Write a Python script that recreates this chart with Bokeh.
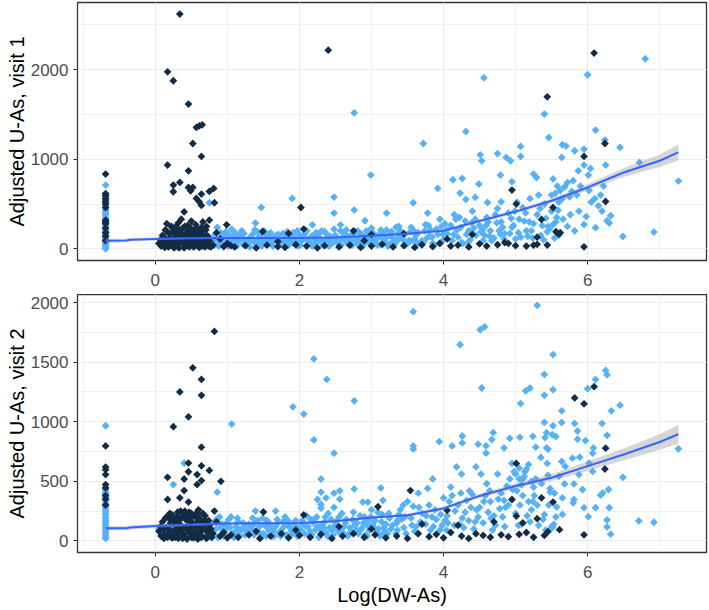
import math
from bokeh.plotting import figure
from bokeh.layouts import column
from bokeh.models import Range1d, SingleIntervalTicker
from bokeh.embed import file_html
from bokeh.resources import INLINE

# ---------------- data ----------------
x_ticks_interval = 2
v1_y_label = "Adjusted U-As, visit 1"
v2_y_label = "Adjusted U-As, visit 2"
x_label = "Log(DW-As)"

# visit 1 : dark points
v1_dark = [
    (0.34, 2622), (0.17, 1977), (0.25, 1877), (0.46, 1616), (0.57, 1355), (0.61, 1374), (0.65, 1385),
    (0.52, 1176), (0.64, 1031), (0.17, 935), (0.46, 871), (0.25, 711), (0.34, 741), (0.25, 637),
    (0.46, 685), (0.52, 685), (0.49, 648), (0.57, 562), (0.64, 611), (0.61, 525), (0.75, 640),
    (0.81, 674), (0.82, 514), (0.64, 484), (0.40, 413), (0.75, 320), (0.99, 268),
    (2.40, 2219), (2.02, 461), (2.06, 220), (1.49, 193), (1.85, 171),
    (4.95, 656), (5.01, 499), (5.52, 461), (5.36, 328), (5.56, 190), (5.60, 164), (5.44, 41), (5.44, 1698),
    (6.09, 2186), (6.24, 1176), (5.95, 1031), (6.25, 528), (5.95, 22),
    (-0.69, 834), (-0.69, 614), (-0.69, 590), (-0.69, 560), (-0.69, 530), (-0.69, 500), (-0.69, 460),
    (-0.69, 320), (-0.69, 300), (-0.69, 280), (-0.69, 230), (-0.69, 180), (-0.69, 140), (-0.69, 90),
    (0.05, 60), (0.08, 30), (0.10, 150), (0.12, 90), (0.15, 200), (0.18, 20), (0.20, 120), (0.22, 250),
    (0.25, 70), (0.27, 180), (0.30, 40), (0.32, 290), (0.35, 110), (0.37, 220), (0.40, 10), (0.42, 160),
    (0.45, 260), (0.47, 80), (0.50, 310), (0.52, 140), (0.55, 50), (0.57, 230), (0.60, 100), (0.62, 190),
    (0.65, 30), (0.68, 130), (0.70, 210), (0.72, 60), (0.75, 90), (0.80, 40),
    (0.07, 100), (0.13, 15), (0.19, 170), (0.24, 230), (0.29, 55), (0.33, 200), (0.38, 140), (0.43, 75),
    (0.48, 240), (0.53, 20), (0.58, 170), (0.63, 120), (0.67, 65), (0.71, 150), (0.77, 20), (0.85, 180),
    (0.90, 110), (0.95, 25), (1.00, 60), (1.05, 35),
    (0.16, 280), (0.21, 45), (0.28, 130), (0.34, 160), (0.36, 330), (0.41, 250), (0.44, 35), (0.51, 95),
    (0.56, 270), (0.61, 15), (0.66, 300), (0.73, 140), (0.31, 190), (0.39, 60), (0.46, 200), (0.54, 180),
    (0.59, 40), (0.26, 10), (0.49, 120), (0.64, 240), (0.11, 45), (0.69, 20),
    (0.12, 130), (0.14, 210), (0.17, 80), (0.19, 30), (0.23, 180), (0.26, 110), (0.29, 250), (0.31, 90),
    (0.34, 60), (0.36, 170), (0.38, 230), (0.40, 90), (0.43, 180), (0.45, 130), (0.47, 20), (0.50, 210),
    (0.52, 60), (0.55, 150), (0.57, 110), (0.59, 220), (0.62, 60), (0.64, 150), (0.66, 200), (0.69, 90),
    (0.71, 250), (0.74, 30), (0.33, 10), (0.48, 170), (0.58, 90), (0.42, 40),
    (1.10, 20), (1.25, 35), (1.40, 10), (1.55, 40), (1.70, 25), (1.80, 15), (1.95, 45), (2.10, 30),
    (2.25, 10), (2.35, 35), (2.55, 20), (2.70, 40), (2.85, 15), (3.00, 30), (3.15, 50), (3.30, 20),
    (3.45, 35), (3.60, 15), (3.70, 45), (3.85, 25), (3.95, 60), (4.10, 30), (4.20, 40), (4.35, 20),
    (4.50, 55), (4.60, 30), (4.75, 45), (4.85, 70), (5.00, 35), (5.15, 30), (5.30, 50), (5.25, 40),
    (4.40, 160), (3.00, 160), (3.45, 170), (2.75, 200), (5.62, 180), (5.30, 130), (4.90, 60),
    (4.05, 110), (1.70, 80), (2.90, 90),
]

# visit 1 : light points
v1_light = [
    (-0.69, 711), (-0.69, 620), (-0.69, 570), (-0.69, 550), (-0.69, 520), (-0.69, 480), (-0.69, 440),
    (-0.69, 400), (-0.69, 380), (-0.69, 350), (-0.69, 330), (-0.69, 290), (-0.69, 270), (-0.69, 250),
    (-0.69, 220), (-0.69, 200), (-0.69, 170), (-0.69, 150), (-0.69, 130), (-0.69, 110), (-0.69, 100),
    (-0.69, 70), (-0.69, 50), (-0.69, 30), (-0.69, 10), (-0.69, 0), (-0.69, 60), (-0.69, 190),
    (-0.69, 420), (-0.69, 600),
    (0.10, 40), (0.20, 80), (0.30, 30), (0.38, 120), (0.45, 60), (0.55, 20), (0.60, 90), (0.68, 50),
    (0.72, 110), (0.33, 200), (0.50, 150), (0.86, 238), (1.06, 220), (0.25, 246), (0.75, 514),
    (2.76, 1519), (2.99, 823), (1.90, 562), (2.48, 577), (1.47, 461), (2.48, 399), (2.76, 432),
    (1.39, 287), (2.91, 313), (3.21, 399), (2.18, 268), (2.57, 268),
    (4.56, 1910), (5.40, 1505), (4.31, 1310), (3.72, 1176), (5.46, 1243), (5.07, 1143), (5.07, 1031),
    (4.51, 1050), (4.53, 983), (4.75, 1064), (4.87, 1020), (4.93, 983), (3.92, 674), (4.13, 771),
    (4.26, 785), (4.49, 723), (4.79, 823), (4.95, 750), (5.25, 834), (5.29, 796), (3.58, 514),
    (3.78, 399), (4.23, 622), (4.44, 573), (4.31, 551), (4.61, 517), (4.80, 525),
    (6.80, 2122), (6.00, 1944), (6.11, 1326), (6.24, 1214), (6.45, 1132), (5.65, 1162), (5.70, 1147),
    (5.82, 1095), (5.95, 1113), (5.64, 1020), (6.25, 935), (5.95, 935), (6.01, 823), (6.04, 897),
    (5.87, 871), (6.72, 964), (7.26, 756), (6.27, 313), (6.32, 369), (6.30, 287), (6.11, 235),
    (6.49, 137), (6.92, 186),
    (5.52, 780), (5.58, 700), (5.62, 650), (5.55, 620), (5.68, 690), (5.72, 740), (5.78, 640),
    (5.85, 600), (5.65, 560), (5.75, 580), (5.90, 700), (5.80, 760), (5.60, 520), (5.50, 600),
    (6.02, 650), (6.10, 560), (6.18, 600), (6.22, 700), (6.05, 520), (6.15, 480), (5.88, 420),
    (5.76, 380), (5.66, 330), (5.56, 300), (5.95, 270), (5.72, 250), (5.82, 200), (5.60, 150),
    (5.98, 360), (6.20, 420),
    (3.30, 120), (3.35, 80), (3.40, 200), (3.45, 150), (3.50, 60), (3.55, 240), (3.60, 110), (3.65, 180),
    (3.70, 90), (3.75, 270), (3.80, 140), (3.85, 60), (3.90, 220), (3.95, 330), (4.00, 100), (4.05, 170),
    (4.10, 260), (4.15, 380), (4.20, 130), (4.25, 70), (4.30, 310), (4.35, 200), (4.40, 420), (4.45, 150),
    (4.50, 260), (4.55, 90), (4.60, 350), (4.65, 200), (4.70, 120), (4.75, 450), (4.80, 300), (4.85, 170),
    (4.90, 400), (4.95, 240), (5.00, 110), (5.05, 330), (5.10, 460), (5.15, 200), (5.20, 560), (5.25, 280),
    (5.30, 380), (5.35, 150), (5.40, 500), (5.45, 250), (5.50, 420),
    (3.32, 60), (3.42, 130), (3.52, 95), (3.62, 150), (3.72, 70), (3.82, 210), (3.92, 160), (4.02, 280),
    (4.12, 90), (4.22, 350), (4.32, 160), (4.42, 230), (4.52, 190), (4.62, 300), (4.72, 380), (4.82, 240),
    (4.92, 170), (5.02, 520), (5.12, 310), (5.22, 200), (5.32, 600), (5.42, 340), (5.52, 270),
    (3.37, 170), (3.57, 90), (3.77, 120), (3.97, 250), (4.17, 330), (4.37, 100), (4.57, 150), (4.77, 200),
    (4.97, 260), (5.17, 140), (5.37, 260), (5.57, 350), (3.47, 40), (3.87, 45), (4.27, 60), (4.67, 90),
    (5.07, 130), (5.47, 220),
    (3.34, 240), (3.44, 100), (3.54, 190), (3.64, 60), (3.74, 200), (3.84, 130), (3.94, 60), (4.04, 210),
    (4.14, 160), (4.24, 240), (4.34, 70), (4.44, 330), (4.54, 210), (4.64, 140), (4.74, 290), (4.84, 110),
    (4.94, 340), (5.04, 180), (5.14, 400), (5.24, 120), (5.34, 450), (5.44, 190), (5.54, 120),
    (3.39, 130), (3.59, 200), (3.79, 260), (3.99, 160), (4.19, 210), (4.39, 290), (4.59, 260), (4.79, 160),
    (4.99, 420), (5.19, 300), (5.39, 100), (5.59, 430),
    (0.80, 80), (0.85, 120), (0.90, 60), (0.95, 150), (1.00, 100), (1.05, 40), (1.10, 130), (1.15, 90),
    (1.20, 200), (1.25, 70), (1.30, 110), (1.35, 160), (1.40, 50), (1.45, 140), (1.50, 90), (1.55, 60),
    (1.60, 180), (1.65, 100), (1.70, 130), (1.75, 70), (1.80, 150), (1.85, 40), (1.90, 110), (1.95, 90),
    (2.00, 160), (2.05, 120), (2.10, 200), (2.15, 60), (2.20, 140), (2.25, 80), (2.30, 100), (2.35, 190),
    (2.40, 120), (2.45, 60), (2.50, 150), (2.55, 90), (2.60, 130), (2.65, 210), (2.70, 80), (2.75, 110),
    (2.80, 60), (2.85, 170), (2.90, 140), (2.95, 100), (3.00, 230), (3.05, 90), (3.10, 130), (3.15, 180),
    (3.20, 70), (3.25, 150),
    (0.82, 40), (0.87, 90), (0.92, 130), (0.97, 70), (1.02, 160), (1.07, 110), (1.12, 60), (1.17, 150),
    (1.22, 50), (1.27, 100), (1.32, 130), (1.37, 80), (1.42, 190), (1.47, 60), (1.52, 110), (1.57, 140),
    (1.62, 70), (1.67, 120), (1.72, 40), (1.77, 170), (1.82, 90), (1.87, 130), (1.92, 60), (1.97, 200),
    (2.02, 80), (2.07, 110), (2.12, 50), (2.17, 140), (2.22, 100), (2.27, 170), (2.32, 60), (2.37, 90),
    (2.42, 140), (2.47, 120), (2.52, 70), (2.57, 200), (2.62, 100), (2.67, 60), (2.72, 150), (2.77, 120),
    (2.82, 90), (2.87, 70), (2.92, 110), (2.97, 160), (3.02, 80), (3.07, 120), (3.12, 50), (3.17, 100),
    (3.22, 140), (3.27, 60),
    (0.83, 160), (0.88, 30), (0.93, 100), (0.98, 190), (1.03, 70), (1.08, 140), (1.13, 30), (1.18, 110),
    (1.23, 170), (1.28, 40), (1.33, 90), (1.38, 210), (1.43, 120), (1.48, 30), (1.53, 170), (1.58, 100),
    (1.63, 30), (1.68, 150), (1.73, 100), (1.78, 50), (1.83, 190), (1.88, 80), (1.93, 140), (1.98, 30),
    (2.03, 120), (2.08, 170), (2.13, 90), (2.18, 30), (2.23, 180), (2.28, 120), (2.33, 40), (2.38, 160),
    (2.43, 80), (2.48, 220), (2.53, 110), (2.58, 40), (2.63, 170), (2.68, 130), (2.73, 40), (2.78, 190),
    (2.83, 130), (2.88, 30), (2.93, 200), (2.98, 60), (3.03, 170), (3.08, 40), (3.13, 210), (3.18, 130),
    (3.23, 30), (3.28, 190), (3.33, 100), (3.38, 250),
    (0.81, 110), (0.91, 180), (1.01, 30), (1.11, 180), (1.21, 120), (1.31, 20), (1.41, 90), (1.51, 200),
    (1.61, 130), (1.71, 160), (1.81, 60), (1.91, 180), (2.01, 40), (2.11, 100), (2.21, 60), (2.31, 200),
    (2.41, 30), (2.51, 110), (2.61, 180), (2.71, 130), (2.81, 200), (2.91, 70), (3.01, 110), (3.11, 160),
    (3.21, 210), (3.31, 40),
]

# visit 2 : dark points
v2_dark = [
    (0.82, 1758), (0.52, 1452), (0.64, 1355), (0.34, 1250), (0.64, 1222), (0.46, 1041), (0.25, 958),
    (0.64, 786), (0.46, 653), (0.64, 630), (0.75, 591), (0.46, 580), (0.58, 556), (0.64, 506),
    (0.40, 519), (0.58, 472), (0.17, 533), (0.91, 500), (0.40, 422), (0.17, 347), (0.34, 361),
    (0.46, 325), (0.82, 250),
    (1.50, 242), (2.06, 217), (3.09, 286), (3.54, 422), (4.95, 347), (5.36, 361), (5.52, 325),
    (5.01, 650), (5.01, 208), (5.30, 186), (4.05, 256), (6.09, 1294), (5.82, 1200), (5.95, 1150),
    (6.25, 778), (6.24, 603), (5.95, 50), (5.61, 94), (5.45, 78),
    (-0.69, 797), (-0.69, 619), (-0.69, 597), (-0.69, 556), (-0.69, 472), (-0.69, 444), (-0.69, 380),
    (-0.69, 350), (-0.69, 300),
    (0.05, 80), (0.08, 40), (0.10, 160), (0.12, 20), (0.15, 110), (0.18, 60), (0.20, 230), (0.22, 30),
    (0.25, 140), (0.27, 80), (0.30, 200), (0.32, 20), (0.35, 250), (0.37, 120), (0.40, 50), (0.42, 180),
    (0.45, 90), (0.47, 240), (0.50, 30), (0.52, 150), (0.55, 210), (0.57, 70), (0.60, 260), (0.62, 110),
    (0.65, 40), (0.68, 180), (0.70, 90), (0.72, 30), (0.75, 130), (0.80, 60),
    (0.07, 120), (0.13, 45), (0.19, 190), (0.24, 25), (0.29, 100), (0.33, 170), (0.38, 60), (0.43, 220),
    (0.48, 130), (0.53, 25), (0.58, 190), (0.63, 80), (0.67, 150), (0.71, 20), (0.77, 100), (0.85, 160),
    (0.90, 40), (0.95, 70), (1.00, 25), (1.05, 50),
    (0.16, 200), (0.21, 90), (0.28, 30), (0.34, 140), (0.36, 60), (0.41, 110), (0.44, 15), (0.51, 200),
    (0.56, 120), (0.61, 50), (0.66, 230), (0.73, 70), (0.31, 70), (0.39, 230), (0.46, 170), (0.54, 90),
    (0.59, 15), (0.26, 180), (0.49, 60), (0.64, 160),
    (0.11, 90), (0.14, 190), (0.17, 30), (0.21, 150), (0.23, 220), (0.26, 60), (0.29, 170), (0.31, 240),
    (0.34, 90), (0.36, 200), (0.38, 20), (0.41, 250), (0.43, 120), (0.45, 180), (0.48, 60), (0.50, 230),
    (0.53, 110), (0.55, 40), (0.57, 150), (0.60, 200), (0.62, 170), (0.64, 30), (0.67, 100), (0.69, 210),
    (0.72, 140), (0.74, 170), (0.78, 30), (0.33, 120), (0.47, 90), (0.58, 240),
    (1.15, 30), (1.30, 50), (1.45, 20), (1.60, 40), (1.75, 60), (1.85, 25), (2.00, 45), (2.15, 30),
    (2.30, 55), (2.45, 20), (2.60, 40), (2.75, 60), (2.90, 30), (3.05, 50), (3.20, 25), (3.35, 40),
    (3.50, 20), (3.65, 60), (3.80, 35), (3.90, 55), (4.00, 25), (4.10, 70), (4.25, 40), (4.35, 20),
    (4.45, 60), (4.55, 45), (4.65, 30), (4.80, 50), (4.90, 35), (5.05, 55), (5.15, 70), (5.25, 30),
    (5.40, 45), (1.40, 80), (2.55, 120), (3.00, 100), (3.70, 140), (4.20, 130), (4.70, 160),
    (5.10, 150), (1.95, 90),
]

# visit 2 : light points
v2_light = [
    (-0.69, 966), (-0.69, 450), (-0.69, 430), (-0.69, 410), (-0.69, 390), (-0.69, 370), (-0.69, 350),
    (-0.69, 330), (-0.69, 310), (-0.69, 290), (-0.69, 270), (-0.69, 250), (-0.69, 230), (-0.69, 210),
    (-0.69, 190), (-0.69, 170), (-0.69, 150), (-0.69, 130), (-0.69, 110), (-0.69, 90), (-0.69, 70),
    (-0.69, 50), (-0.69, 30), (-0.69, 20), (-0.69, 400), (-0.69, 360),
    (1.06, 980), (0.40, 653), (0.25, 472), (0.86, 408), (2.20, 1527), (2.38, 1355), (2.76, 1175),
    (1.91, 1125), (2.06, 1064), (2.20, 847), (2.48, 736), (2.30, 519), (2.30, 408), (2.25, 347),
    (2.30, 305), (2.30, 275), (2.37, 360), (2.48, 400), (2.56, 420), (2.48, 280), (2.56, 350),
    (2.76, 436), (3.13, 444), (2.88, 325), (2.95, 325), (3.16, 340), (1.39, 250), (1.67, 250),
    (3.58, 1924), (5.30, 1977), (4.51, 1772), (4.57, 1797), (4.23, 1647), (5.52, 1564), (4.53, 1283),
    (5.40, 1397), (5.40, 1222), (5.52, 1269), (5.07, 1152), (5.14, 1258), (5.20, 1283), (3.94, 833),
    (3.58, 797), (3.58, 769), (4.26, 880), (4.26, 822), (4.12, 797), (4.48, 811), (4.59, 797),
    (4.67, 850), (4.69, 908), (4.92, 861), (5.06, 869), (5.24, 877), (5.43, 908), (5.51, 891),
    (4.84, 780), (4.59, 736), (5.28, 786), (5.43, 780), (5.45, 769),
    (6.25, 1430), (6.27, 1394), (6.11, 1355), (6.00, 1277), (6.45, 1139), (6.33, 1091), (5.64, 1091),
    (5.40, 994), (5.52, 966), (5.64, 994), (5.82, 986), (5.86, 922), (6.20, 986), (6.27, 886),
    (5.56, 875), (5.97, 842), (5.86, 853), (5.41, 867), (6.08, 780), (7.26, 772), (6.49, 533),
    (6.71, 167), (6.92, 156), (6.27, 117), (6.32, 56),
    (5.64, 666), (5.69, 625), (5.79, 694), (5.89, 702), (6.02, 653), (6.07, 736), (5.60, 541),
    (5.68, 478), (5.81, 478), (5.93, 431), (6.29, 431), (6.21, 403), (6.18, 383), (5.48, 439),
    (5.65, 361), (5.81, 347), (5.80, 319), (5.95, 278), (6.11, 278), (6.30, 278), (6.01, 203),
    (5.65, 222), (5.57, 283), (5.53, 139), (5.51, 111), (6.27, 175), (6.07, 583), (5.88, 556),
    (5.00, 560), (5.05, 610), (5.10, 520), (5.13, 580), (5.18, 640), (5.22, 500), (5.08, 470),
    (3.35, 150), (3.40, 260), (3.45, 110), (3.50, 330), (3.55, 190), (3.60, 80), (3.65, 400), (3.70, 230),
    (3.75, 140), (3.80, 300), (3.85, 520), (3.90, 180), (3.95, 90), (4.00, 360), (4.05, 210), (4.10, 450),
    (4.15, 130), (4.20, 300), (4.25, 560), (4.30, 240), (4.35, 170), (4.40, 390), (4.45, 620), (4.50, 280),
    (4.55, 150), (4.60, 480), (4.65, 330), (4.70, 210), (4.75, 560), (4.80, 400), (4.85, 120), (4.90, 300),
    (4.95, 650), (5.00, 230), (5.05, 520), (5.10, 380), (5.15, 600), (5.20, 160), (5.25, 450), (5.30, 300),
    (5.35, 700), (5.40, 220), (5.45, 550), (5.50, 120),
    (3.38, 220), (3.48, 60), (3.58, 290), (3.68, 160), (3.78, 440), (3.88, 260), (3.98, 130), (4.08, 330),
    (4.18, 620), (4.28, 110), (4.38, 280), (4.48, 200), (4.58, 380), (4.68, 90), (4.78, 270), (4.88, 460),
    (4.98, 580), (5.08, 140), (5.18, 330), (5.28, 520), (5.38, 180), (5.48, 410),
    (3.42, 180), (3.62, 120), (3.82, 90), (4.02, 170), (4.22, 140), (4.42, 100), (4.62, 240), (4.82, 200),
    (5.02, 420), (5.22, 260), (5.42, 90), (4.12, 380), (4.32, 340), (4.52, 560), (4.72, 130), (4.92, 520),
    (5.12, 540), (5.32, 130),
    (3.36, 90), (3.46, 200), (3.56, 130), (3.66, 280), (3.76, 210), (3.86, 120), (3.96, 220), (4.06, 150),
    (4.16, 250), (4.26, 190), (4.36, 420), (4.46, 260), (4.56, 330), (4.66, 190), (4.76, 350), (4.86, 280),
    (4.96, 430), (5.06, 300), (5.16, 210), (5.26, 380), (5.36, 480), (5.46, 300), (5.56, 200),
    (3.44, 300), (3.64, 60), (3.84, 200), (4.04, 90), (4.24, 400), (4.44, 160), (4.64, 420), (4.84, 340),
    (5.04, 130), (5.24, 330), (5.44, 650), (5.54, 400),
    (0.05, 100), (0.15, 60), (0.22, 140), (0.32, 40), (0.42, 90), (0.52, 60), (0.62, 30), (0.70, 120),
    (0.27, 80), (0.57, 150),
    (0.70, 90), (0.75, 150), (0.80, 60), (0.85, 180), (0.90, 110), (0.95, 40), (1.00, 130), (1.05, 200),
    (1.10, 70), (1.15, 160), (1.20, 100), (1.25, 50), (1.30, 140), (1.35, 190), (1.40, 80), (1.45, 120),
    (1.50, 60), (1.55, 170), (1.60, 110), (1.65, 40), (1.70, 150), (1.75, 90), (1.80, 200), (1.85, 130),
    (1.90, 60), (1.95, 170), (2.00, 100), (2.05, 140), (2.10, 210), (2.15, 80), (2.20, 180), (2.25, 120),
    (2.30, 60), (2.35, 160), (2.40, 230), (2.45, 90), (2.50, 140), (2.55, 200), (2.60, 70), (2.65, 180),
    (2.70, 110), (2.75, 240), (2.80, 150), (2.85, 90), (2.90, 200), (2.95, 130), (3.00, 260), (3.05, 170),
    (3.10, 100), (3.15, 220), (3.20, 140), (3.25, 190),
    (0.72, 50), (0.77, 100), (0.82, 160), (0.87, 30), (0.92, 140), (0.97, 90), (1.02, 180), (1.07, 60),
    (1.12, 120), (1.17, 40), (1.22, 150), (1.27, 80), (1.32, 110), (1.37, 50), (1.42, 170), (1.47, 30),
    (1.52, 130), (1.57, 90), (1.62, 40), (1.67, 120), (1.72, 70), (1.77, 160), (1.82, 50), (1.87, 110),
    (1.92, 150), (1.97, 40), (2.02, 90), (2.07, 60), (2.12, 120), (2.17, 50), (2.22, 90), (2.27, 30),
    (2.32, 140), (2.37, 70), (2.42, 110), (2.47, 50), (2.52, 170), (2.57, 60), (2.62, 120), (2.67, 40),
    (2.72, 80), (2.77, 130), (2.82, 60), (2.87, 110), (2.92, 50), (2.97, 90), (3.02, 140), (3.07, 70),
    (3.12, 40), (3.17, 110), (3.22, 60), (3.27, 100),
    (0.74, 120), (0.79, 30), (0.84, 100), (0.89, 200), (0.94, 70), (0.99, 150), (1.04, 110), (1.09, 30),
    (1.14, 190), (1.19, 90), (1.24, 130), (1.29, 60), (1.34, 100), (1.39, 160), (1.44, 70), (1.49, 190),
    (1.54, 40), (1.59, 140), (1.64, 80), (1.69, 180), (1.74, 40), (1.79, 120), (1.84, 170), (1.89, 80),
    (1.94, 110), (1.99, 60), (2.04, 170), (2.09, 120), (2.14, 40), (2.19, 150), (2.24, 200), (2.29, 90),
    (2.34, 110), (2.39, 40), (2.44, 180), (2.49, 120), (2.54, 80), (2.59, 230), (2.64, 150), (2.69, 60),
    (2.74, 180), (2.79, 90), (2.84, 210), (2.89, 150), (2.94, 40), (2.99, 200), (3.04, 110), (3.09, 240),
    (3.14, 160), (3.19, 80), (3.24, 230), (3.29, 130), (3.34, 60),
    (0.76, 80), (0.96, 120), (1.16, 90), (1.36, 130), (1.56, 110), (1.76, 60), (1.96, 120), (2.16, 180),
    (2.36, 200), (2.56, 100), (2.76, 160), (2.96, 170), (3.16, 60), (3.36, 170),
]

# smooth (loess) curves, with standard-error half width
smooth_x = [-0.69, -0.40, -0.35, 0.0, 0.5, 1.0, 1.5, 2.0, 2.5, 3.0, 3.5, 4.0, 4.5, 5.0, 5.5, 6.0, 6.5, 7.0, 7.26]
v1_smooth_y = [90, 92, 100, 110, 118, 120, 120, 119, 125, 145, 167, 201, 310, 415, 536, 685, 852, 983, 1076]
v1_smooth_se = [25, 20, 20, 15, 12, 10, 10, 10, 10, 10, 12, 15, 18, 22, 25, 35, 50, 70, 90]
v2_smooth_y = [106, 106, 112, 125, 135, 145, 148, 150, 165, 195, 215, 272, 377, 461, 530, 627, 725, 830, 895]
v2_smooth_se = [20, 18, 18, 15, 12, 10, 10, 10, 10, 12, 14, 16, 18, 22, 28, 38, 50, 65, 80]

DARK = "#132B43"
LIGHT = "#56B1F7"
LINE = "#3366FF"
FONT = "Liberation Sans"


def make_panel(dark, light, sy, se, ylabel, yr, y_int, height, b_top, b_bottom, show_xlabel):
    p = figure(width=709, height=height, output_backend="svg", toolbar_location=None,
               x_range=Range1d(-1.08, 7.65), y_range=Range1d(*yr),
               min_border_left=77, min_border_right=3, min_border_top=b_top,
               min_border_bottom=b_bottom)
    p.background_fill_color = "white"
    p.border_fill_color = "white"
    p.outline_line_color = "#333333"
    p.outline_line_width = 1.3

    p.xaxis.ticker = SingleIntervalTicker(interval=x_ticks_interval, num_minor_ticks=2)
    p.yaxis.ticker = SingleIntervalTicker(interval=y_int, num_minor_ticks=2)
    for g in (p.xgrid, p.ygrid):
        g.grid_line_color = "#EBEBEB"
        g.grid_line_width = 1.2
        g.minor_grid_line_color = "#EBEBEB"
        g.minor_grid_line_width = 0.7
    for ax in (p.xaxis, p.yaxis):
        ax.axis_line_color = None
        ax.major_tick_line_color = "#333333"
        ax.major_tick_out = 4
        ax.major_tick_in = 0
        ax.minor_tick_line_color = None
        ax.major_label_text_font = FONT
        ax.major_label_text_font_size = "17px"
        ax.major_label_text_color = "#4D4D4D"
        ax.axis_label_text_font = FONT
        ax.axis_label_text_font_size = "20px"
        ax.axis_label_text_font_style = "normal"
        ax.axis_label_text_color = "#000000"
    p.xaxis.major_label_standoff = 9
    p.yaxis.major_label_standoff = 5
    p.yaxis.axis_label = ylabel
    p.yaxis.axis_label_standoff = 0
    if show_xlabel:
        p.xaxis.axis_label = x_label
        p.xaxis.axis_label_standoff = 3

    lx = [a for a, b in light]
    ly = [b for a, b in light]
    dx = [a for a, b in dark]
    dy = [b for a, b in dark]
    p.scatter(lx, ly, marker="square", angle=math.pi / 4, size=5.5, color=LIGHT, line_width=0)
    p.scatter(dx, dy, marker="square", angle=math.pi / 4, size=5.5, color=DARK, line_width=0)

    lo = [a - b for a, b in zip(sy, se)]
    hi = [a + b for a, b in zip(sy, se)]
    p.varea(x=smooth_x, y1=lo, y2=hi, fill_color="#999999", fill_alpha=0.4)
    p.line(smooth_x, sy, line_color=LINE, line_width=2)
    return p


p1 = make_panel(v1_dark, v1_light, v1_smooth_y, v1_smooth_se, v1_y_label,
                (-131, 2751), 1000, 294, 2, 34, False)
p2 = make_panel(v2_dark, v2_light, v2_smooth_y, v2_smooth_se, v2_y_label,
                (-98, 2068), 500, 315, 0, 57, True)

p = column(p1, p2, spacing=0)
open("out.html", "w").write(file_html(p, INLINE))
